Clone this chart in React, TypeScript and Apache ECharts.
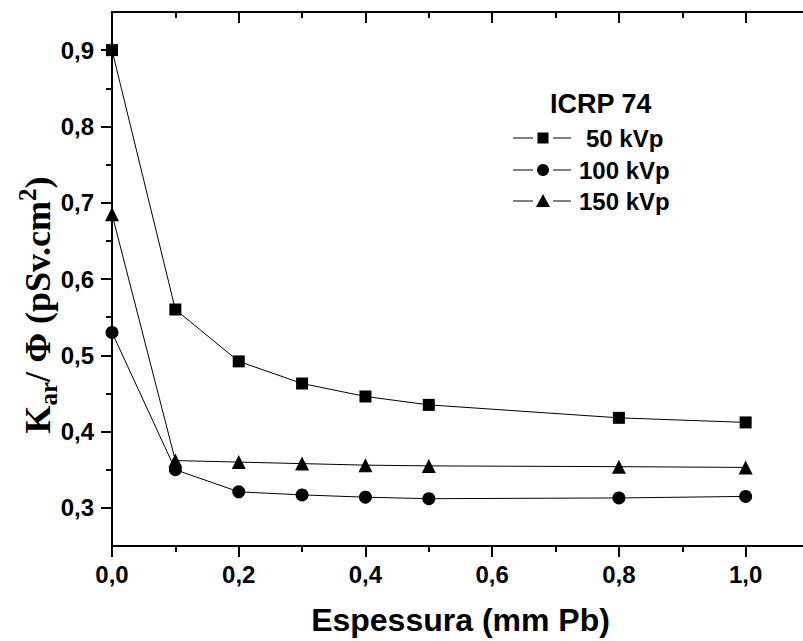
import React, { useEffect, useRef } from "react";
import * as echarts from "echarts";

const thickness = [0, 0.1, 0.2, 0.3, 0.4, 0.5, 0.8, 1.0];
const kvp50 = [0.9, 0.56, 0.492, 0.463, 0.446, 0.435, 0.418, 0.412];
const kvp100 = [0.53, 0.35, 0.321, 0.317, 0.314, 0.312, 0.313, 0.315];
const kvp150 = [0.685, 0.362, 0.36, 0.358, 0.356, 0.355, 0.354, 0.353];
const seriesNames = ["50 kVp", "100 kVp", "150 kVp"];
const legendTitle = "ICRP 74";
const xMajorTicks = [0, 0.2, 0.4, 0.6, 0.8, 1.0];
const xMinorTicks = [0.1, 0.3, 0.5, 0.7, 0.9];
const yMajorTicks = [0.3, 0.4, 0.5, 0.6, 0.7, 0.8, 0.9];
const yMinorTicks = [0.35, 0.45, 0.55, 0.65, 0.75, 0.85];
const xTitle = "Espessura (mm Pb)";

const fmt = (v: number) => v.toFixed(1).replace(".", ",");

export default function App() {
  const ref = useRef<HTMLDivElement>(null);
  useEffect(() => {
    if (!ref.current) return;
    const chart = echarts.init(ref.current, null, { renderer: "svg" });
    const sans = "'Liberation Sans', Arial, sans-serif";
    const serif = "'Liberation Serif', 'Times New Roman', serif";
    const axisBase = (min: number, max: number) => ({
      type: "value" as const,
      min,
      max,
      splitLine: { show: false },
      axisLine: { show: false },
      axisLabel: { show: false },
    });
    const xMin = 0, xMax = 1.1, yMin = 0.25, yMax = 0.95;
    const mk = (d: number[]) => thickness.map((x, i) => [x, d[i]]);
    const lineStyle = { color: "#000", width: 1 };
    const legendRowY = [138, 170, 201];
    const symbols = ["rect", "circle", "triangle"];
    const legendGraphics: any[] = [];
    legendRowY.forEach((y, i) => {
      legendGraphics.push({ type: "line", shape: { x1: 513, y1: y, x2: 533, y2: y }, style: { stroke: "#000", lineWidth: 1 } });
      legendGraphics.push({ type: "line", shape: { x1: 553, y1: y, x2: 571, y2: y }, style: { stroke: "#000", lineWidth: 1 } });
      if (symbols[i] === "rect") {
        legendGraphics.push({ type: "rect", shape: { x: 537.5, y: y - 5.5, width: 11, height: 11 }, style: { fill: "#000" } });
      } else if (symbols[i] === "circle") {
        legendGraphics.push({ type: "circle", shape: { cx: 543, cy: y, r: 6 }, style: { fill: "#000" } });
      } else {
        legendGraphics.push({ type: "polygon", shape: { points: [[543, y - 7], [550, y + 6], [536, y + 6]] }, style: { fill: "#000" } });
      }
      legendGraphics.push({
        type: "text",
        x: i === 0 ? 586 : 579,
        y,
        style: { text: seriesNames[i], font: `bold 24px ${sans}`, fill: "#000", align: "left", verticalAlign: "middle" },
      });
    });

    chart.setOption({
      animation: false,
      backgroundColor: "#fff",
      grid: { left: 112, top: 12, right: 3, bottom: 94 },
      xAxis: [
        {
          ...axisBase(xMin, xMax),
          position: "bottom",
          axisLine: { show: true, lineStyle: { color: "#000", width: 2 } },
          axisTick: { show: true, length: 11, lineStyle: { color: "#000", width: 2 }, customValues: xMajorTicks },
          axisLabel: { show: true, customValues: xMajorTicks, formatter: fmt, color: "#000", fontSize: 24, fontWeight: "bold", fontFamily: sans, margin: 16 },
          name: xTitle,
          nameLocation: "middle",
          nameGap: 58,
          nameTextStyle: { color: "#000", fontSize: 32, fontWeight: "bold", fontFamily: sans },
        },
        {
          ...axisBase(xMin, xMax),
          position: "bottom",
          axisTick: { show: true, length: 6, lineStyle: { color: "#000", width: 2 }, customValues: xMinorTicks },
        },
        {
          ...axisBase(xMin, xMax),
          position: "top",
          axisLine: { show: true, lineStyle: { color: "#000", width: 2 } },
          axisTick: { show: true, inside: true, length: 11, lineStyle: { color: "#000", width: 2 }, customValues: xMajorTicks },
        },
        {
          ...axisBase(xMin, xMax),
          position: "top",
          axisTick: { show: true, inside: true, length: 6, lineStyle: { color: "#000", width: 2 }, customValues: xMinorTicks },
        },
      ],
      yAxis: [
        {
          ...axisBase(yMin, yMax),
          position: "left",
          axisLine: { show: true, lineStyle: { color: "#000", width: 2 } },
          axisTick: { show: true, length: 11, lineStyle: { color: "#000", width: 2 }, customValues: yMajorTicks },
          axisLabel: { show: true, customValues: yMajorTicks, formatter: fmt, color: "#000", fontSize: 24, fontWeight: "bold", fontFamily: sans, margin: 18 },
        },
        {
          ...axisBase(yMin, yMax),
          position: "left",
          axisTick: { show: true, length: 6, lineStyle: { color: "#000", width: 2 }, customValues: yMinorTicks },
        },
        {
          ...axisBase(yMin, yMax),
          position: "right",
          axisLine: { show: true, lineStyle: { color: "#000", width: 2 } },
          axisTick: { show: true, inside: true, length: 11, lineStyle: { color: "#000", width: 2 }, customValues: yMajorTicks },
        },
        {
          ...axisBase(yMin, yMax),
          position: "right",
          axisTick: { show: true, inside: true, length: 6, lineStyle: { color: "#000", width: 2 }, customValues: yMinorTicks },
        },
      ],
      series: [
        { name: seriesNames[0], type: "line", xAxisIndex: 0, yAxisIndex: 0, data: mk(kvp50), symbol: "rect", symbolSize: 12, itemStyle: { color: "#000" }, lineStyle, z: 3 },
        { name: seriesNames[1], type: "line", xAxisIndex: 0, yAxisIndex: 0, data: mk(kvp100), symbol: "circle", symbolSize: 13, itemStyle: { color: "#000" }, lineStyle, z: 3 },
        { name: seriesNames[2], type: "line", xAxisIndex: 0, yAxisIndex: 0, data: mk(kvp150), symbol: "triangle", symbolSize: 14, itemStyle: { color: "#000" }, lineStyle, z: 3 },
      ],
      graphic: [
        {
          type: "text",
          x: 550,
          y: 104,
          style: { text: legendTitle, font: `bold 27px ${sans}`, fill: "#000", align: "left", verticalAlign: "middle" },
        },
        ...legendGraphics,
        {
          type: "text",
          x: 38,
          y: 305,
          rotation: Math.PI / 2,
          style: {
            text: "{k|K}{s|ar}{k|/ Φ (pSv.cm}{p|2}{k|)}",
            align: "center",
            verticalAlign: "middle",
            fill: "#000",
            rich: {
              k: { fontSize: 36, fontFamily: serif, fontWeight: "bold", lineHeight: 46, verticalAlign: "middle", fill: "#000" },
              s: { fontSize: 25, fontFamily: serif, fontWeight: "bold", lineHeight: 22, verticalAlign: "bottom", fill: "#000" },
              p: { fontSize: 25, fontFamily: serif, fontWeight: "bold", lineHeight: 22, verticalAlign: "top", fill: "#000" },
            },
          },
        },
      ],
    });
    return () => chart.dispose();
  }, []);
  return (
    <div
      ref={ref}
      style={{ position: "fixed", left: 0, top: 0, width: 812, height: 641, background: "#fff" }}
    />
  );
}
